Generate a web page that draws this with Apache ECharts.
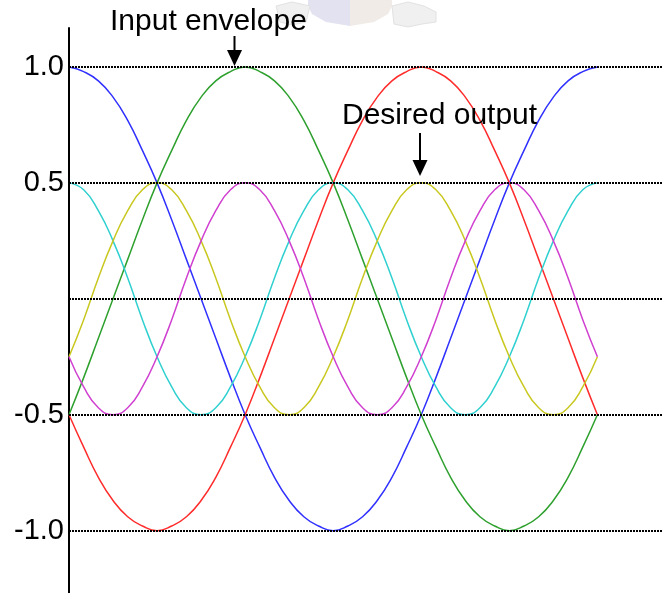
<!DOCTYPE html>
<html>
<head>
<meta charset="utf-8">
<script src="https://cdn.jsdelivr.net/npm/echarts@6/dist/echarts.min.js"></script>
<style>
  html, body { margin: 0; padding: 0; background: #fff; }
  #chart { width: 662px; height: 593px; }
</style>
</head>
<body>
<div id="chart"></div>
<script>
// Phase angle in degrees over one full cycle
const angles = [0, 10, 20, 30, 40, 50, 60, 70, 80, 90, 100, 110, 120, 130, 140, 150, 160, 170, 180,
                190, 200, 210, 220, 230, 240, 250, 260, 270, 280, 290, 300, 310, 320, 330, 340, 350, 360];

// Input envelope: three phases, unit amplitude
const envelopeBlue = [1.00, 0.98, 0.94, 0.87, 0.77, 0.64, 0.50, 0.34, 0.17, 0.00, -0.17, -0.34, -0.50, -0.64, -0.77, -0.87, -0.94, -0.98, -1.00,
                      -0.98, -0.94, -0.87, -0.77, -0.64, -0.50, -0.34, -0.17, 0.00, 0.17, 0.34, 0.50, 0.64, 0.77, 0.87, 0.94, 0.98, 1.00];
const envelopeGreen = [-0.50, -0.34, -0.17, 0.00, 0.17, 0.34, 0.50, 0.64, 0.77, 0.87, 0.94, 0.98, 1.00, 0.98, 0.94, 0.87, 0.77, 0.64, 0.50,
                       0.34, 0.17, 0.00, -0.17, -0.34, -0.50, -0.64, -0.77, -0.87, -0.94, -0.98, -1.00, -0.98, -0.94, -0.87, -0.77, -0.64, -0.50];
const envelopeRed = [-0.50, -0.64, -0.77, -0.87, -0.94, -0.98, -1.00, -0.98, -0.94, -0.87, -0.77, -0.64, -0.50, -0.34, -0.17, 0.00, 0.17, 0.34, 0.50,
                     0.64, 0.77, 0.87, 0.94, 0.98, 1.00, 0.98, 0.94, 0.87, 0.77, 0.64, 0.50, 0.34, 0.17, 0.00, -0.17, -0.34, -0.50];

// Desired output: three phases, half amplitude, double frequency
const outputCyan = [0.50, 0.47, 0.38, 0.25, 0.09, -0.09, -0.25, -0.38, -0.47, -0.50, -0.47, -0.38, -0.25, -0.09, 0.09, 0.25, 0.38, 0.47, 0.50,
                    0.47, 0.38, 0.25, 0.09, -0.09, -0.25, -0.38, -0.47, -0.50, -0.47, -0.38, -0.25, -0.09, 0.09, 0.25, 0.38, 0.47, 0.50];
const outputYellow = [-0.25, -0.09, 0.09, 0.25, 0.38, 0.47, 0.50, 0.47, 0.38, 0.25, 0.09, -0.09, -0.25, -0.38, -0.47, -0.50, -0.47, -0.38, -0.25,
                      -0.09, 0.09, 0.25, 0.38, 0.47, 0.50, 0.47, 0.38, 0.25, 0.09, -0.09, -0.25, -0.38, -0.47, -0.50, -0.47, -0.38, -0.25];
const outputMagenta = [-0.25, -0.38, -0.47, -0.50, -0.47, -0.38, -0.25, -0.09, 0.09, 0.25, 0.38, 0.47, 0.50, 0.47, 0.38, 0.25, 0.09, -0.09, -0.25,
                       -0.38, -0.47, -0.50, -0.47, -0.38, -0.25, -0.09, 0.09, 0.25, 0.38, 0.47, 0.50, 0.47, 0.38, 0.25, 0.09, -0.09, -0.25];

// Y tick labels and reference levels
const yTicks = [-1.0, -0.5, 0.5, 1.0];
const refLevels = [-1.0, -0.5, 0.0, 0.5, 1.0];

const pair = (vals) => angles.map((a, i) => [a, vals[i]]);

const curves = [
  { name: 'Input A', data: envelopeBlue, color: '#3030ff' },
  { name: 'Input B', data: envelopeGreen, color: '#2ea02e' },
  { name: 'Input C', data: envelopeRed, color: '#ff2c2c' },
  { name: 'Output A', data: outputCyan, color: '#30d0d0' },
  { name: 'Output B', data: outputYellow, color: '#c8c820' },
  { name: 'Output C', data: outputMagenta, color: '#d040d0' }
];

const chart = echarts.init(document.getElementById('chart'), null, { renderer: 'canvas' });

const FONT = 'Arial, "Liberation Sans", sans-serif';

const series = [
  {
    name: 'levels',
    type: 'line',
    data: [],
    z: 1,
    silent: true,
    markLine: {
      silent: true,
      symbol: ['none', 'none'],
      animation: false,
      label: { show: false },
      lineStyle: { color: '#000', width: 2, type: [2, 1], opacity: 1 },
      data: refLevels.map(v => ({ yAxis: v }))
    }
  }
].concat(curves.map(c => ({
  name: c.name,
  type: 'line',
  data: pair(c.data),
  smooth: true,
  showSymbol: false,
  z: 3,
  lineStyle: { color: c.color, width: 1.5 },
  itemStyle: { color: c.color }
})));

chart.setOption({
  animation: false,
  backgroundColor: '#fff',
  grid: { left: 69, right: 0, top: 28, bottom: 0, containLabel: false },
  xAxis: {
    type: 'value',
    min: 0,
    max: 404,
    show: false
  },
  yAxis: {
    type: 'value',
    min: -1.269,
    max: 1.168,
    axisLine: { show: true, onZero: false, lineStyle: { color: '#000', width: 2 } },
    axisTick: { show: false, customValues: yTicks },
    splitLine: { show: false },
    axisLabel: {
      customValues: yTicks,
      margin: 5,
      color: '#000',
      fontSize: 29,
      fontFamily: FONT,
      formatter: (v) => Number(v).toFixed(1)
    }
  },
  series: series,
  graphic: [
    // faint emblem behind the heading
    { type: 'polygon', silent: true, z: 0,
      shape: { points: [[308, 0], [350, 0], [350, 26], [326, 22], [312, 14], [308, 6]] },
      style: { fill: '#e2e2f0' } },
    { type: 'polygon', silent: true, z: 0,
      shape: { points: [[350, 0], [392, 0], [392, 6], [388, 14], [374, 22], [350, 26]] },
      style: { fill: '#f0ebe6' } },
    { type: 'polygon', silent: true, z: 0,
      shape: { points: [[276, 6], [292, 2], [310, 6], [306, 22], [292, 25], [280, 22]] },
      style: { fill: '#f0f0f0', stroke: '#e2e2e2', lineWidth: 1 } },
    { type: 'polygon', silent: true, z: 0,
      shape: { points: [[392, 6], [408, 2], [424, 6], [436, 12], [436, 22], [422, 24], [408, 27], [394, 24]] },
      style: { fill: '#f0f0f0', stroke: '#e2e2e2', lineWidth: 1 } },

    // annotations
    { type: 'text', z: 10, style: {
        x: 110, y: 22, text: 'Input envelope', fill: '#000',
        font: '30px ' + FONT, textAlign: 'left', textVerticalAlign: 'middle' } },
    { type: 'line', z: 10, shape: { x1: 234.5, y1: 36, x2: 234.5, y2: 51 },
      style: { stroke: '#000', lineWidth: 2 } },
    { type: 'polygon', z: 10, shape: { points: [[227, 50], [242, 50], [234.5, 66]] },
      style: { fill: '#000' } },

    { type: 'text', z: 10, style: {
        x: 342, y: 116, text: 'Desired output', fill: '#000',
        font: '30px ' + FONT, textAlign: 'left', textVerticalAlign: 'middle' } },
    { type: 'line', z: 10, shape: { x1: 420, y1: 133, x2: 420, y2: 161 },
      style: { stroke: '#000', lineWidth: 2 } },
    { type: 'polygon', z: 10, shape: { points: [[412.5, 160], [427.5, 160], [420, 176]] },
      style: { fill: '#000' } }
  ]
});
</script>
</body>
</html>
